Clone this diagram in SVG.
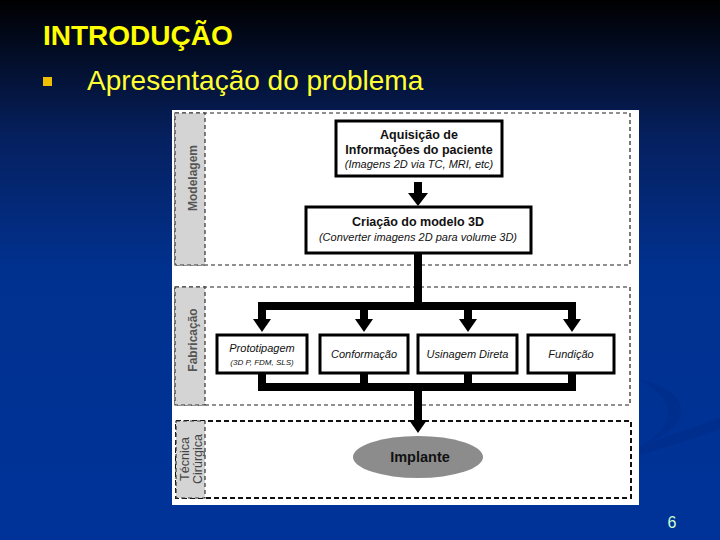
<svg xmlns="http://www.w3.org/2000/svg" width="720" height="540" viewBox="0 0 720 540">
<defs>
<linearGradient id="bg" x1="0" y1="0" x2="0" y2="1">
<stop offset="0" stop-color="#000000"/>
<stop offset="0.25" stop-color="#06205e"/>
<stop offset="0.5" stop-color="#00318f"/>
<stop offset="1" stop-color="#003399"/>
</linearGradient>
<marker id="ah" viewBox="0 0 13 20" refX="0" refY="10" markerWidth="13" markerHeight="20" markerUnits="userSpaceOnUse" orient="auto">
<path d="M0,0 L13,10 L0,20 z" fill="#000"/>
</marker>
<marker id="ahs" viewBox="0 0 13 18" refX="0" refY="9" markerWidth="13" markerHeight="18" markerUnits="userSpaceOnUse" orient="auto">
<path d="M0,0 L13,9 L0,18 z" fill="#000"/>
</marker>
</defs>
<style>
.title{font-family:"Liberation Sans",Arial,sans-serif;font-weight:bold;font-size:28px;fill:#ffff00}
.bullet{font-family:"Liberation Sans",Arial,sans-serif;font-size:28px;fill:#ffff33}
.box{fill:#fff;stroke:#000;stroke-width:3}
.zone{fill:none;stroke:#222;stroke-width:1.2;stroke-dasharray:4 3}
.zone2{fill:none;stroke:#111;stroke-width:2;stroke-dasharray:5 3}
.strip{fill:#d4d4d4;stroke:#333;stroke-width:1.2;stroke-dasharray:4 3}
.b{font-family:"Liberation Sans",Arial,sans-serif;font-weight:bold;font-size:12.5px;fill:#111;text-anchor:middle}
.i{font-family:"Liberation Sans",Arial,sans-serif;font-style:italic;font-size:11px;fill:#111;text-anchor:middle}
.lab{font-family:"Liberation Sans",Arial,sans-serif;font-weight:bold;font-size:12px;fill:#555;text-anchor:middle}
.lab2{font-family:"Liberation Sans",Arial,sans-serif;font-size:12.5px;fill:#444;text-anchor:middle}
.con{fill:none;stroke:#000;stroke-width:8;stroke-linejoin:miter}
</style>
<rect x="0" y="0" width="720" height="540" fill="url(#bg)"/>
<path d="M640,380 C690,390 700,425 640,446 C680,425 675,398 640,380 z" fill="#002a85" opacity="0.45"/>
<path d="M640,446 L720,418 L720,430 L640,455 z" fill="#002a85" opacity="0.45"/>
<text class="title" x="43" y="45">INTRODUÇÃO</text>
<rect x="43" y="77" width="9" height="9" fill="#f0c000"/>
<text class="bullet" x="87" y="90">Apresentação do problema</text>
<rect x="172" y="110" width="467" height="395" fill="#ffffff"/>
<g id="zone-modelagem">
<rect class="zone" x="175" y="113" width="455" height="152"/>
<rect class="strip" x="175" y="113" width="30" height="152"/>
<text class="lab" transform="translate(197,178) rotate(-90)">Modelagem</text>
</g>
<g id="zone-fabricacao">
<rect class="zone" x="175" y="287" width="455" height="118"/>
<rect class="strip" x="175" y="287" width="30" height="118"/>
<text class="lab" transform="translate(197,340) rotate(-90)">Fabricação</text>
</g>
<g id="zone-tecnica">
<rect class="zone2" x="176" y="421" width="455" height="77"/>
<rect class="strip" x="176" y="421" width="29" height="77"/>
<text class="lab2" transform="translate(189,459) rotate(-90)">Técnica</text>
<text class="lab2" transform="translate(202,459) rotate(-90)">Cirúrgica</text>
</g>
<g id="connectors">
<path class="con" d="M418,182 V193" marker-end="url(#ah)"/>
<path class="con" d="M418,253 V306"/>
<path class="con" d="M258,306 H576"/>
<path class="con" d="M262,302 V319" marker-end="url(#ahs)"/>
<path class="con" d="M364,306 V319" marker-end="url(#ahs)"/>
<path class="con" d="M468,306 V319" marker-end="url(#ahs)"/>
<path class="con" d="M572,302 V319" marker-end="url(#ahs)"/>
<path class="con" d="M262,373 V391"/>
<path class="con" d="M364,373 V387"/>
<path class="con" d="M468,373 V387"/>
<path class="con" d="M572,373 V391"/>
<path class="con" d="M258,387 H576"/>
<path class="con" d="M418,387 V420" marker-end="url(#ahs)"/>
</g>
<g id="node-aquisicao">
<rect class="box" x="336" y="121" width="166" height="55"/>
<text class="b" x="419" y="139">Aquisição de</text>
<text class="b" x="419" y="154">Informações do paciente</text>
<text class="i" x="419" y="168">(Imagens 2D via TC, MRI, etc)</text>
</g>
<g id="node-criacao">
<rect class="box" x="306" y="207" width="225" height="46"/>
<text class="b" x="418" y="226">Criação do modelo 3D</text>
<text class="i" x="418" y="241">(Converter imagens 2D para volume 3D)</text>
</g>
<g id="node-prototipagem">
<rect class="box" x="217" y="335" width="90" height="38"/>
<text class="i" x="262" y="352">Prototipagem</text>
<text class="i" x="262" y="365" style="font-size:8px">(3D P, FDM, SLS)</text>
</g>
<g id="node-conformacao">
<rect class="box" x="320" y="335" width="88" height="38"/>
<text class="i" x="364" y="358">Conformação</text>
</g>
<g id="node-usinagem">
<rect class="box" x="418" y="335" width="99" height="38"/>
<text class="i" x="467.5" y="358">Usinagem Direta</text>
</g>
<g id="node-fundicao">
<rect class="box" x="528" y="335" width="86" height="38"/>
<text class="i" x="571" y="358">Fundição</text>
</g>
<g id="node-implante">
<ellipse cx="418" cy="457" rx="65" ry="21" fill="#8c8c8c"/>
<text class="b" x="420" y="462" style="font-size:14.5px">Implante</text>
</g>
<text x="672" y="528" font-family="Liberation Sans, Arial, sans-serif" font-size="16" fill="#ccffcc" text-anchor="middle">6</text>
</svg>
